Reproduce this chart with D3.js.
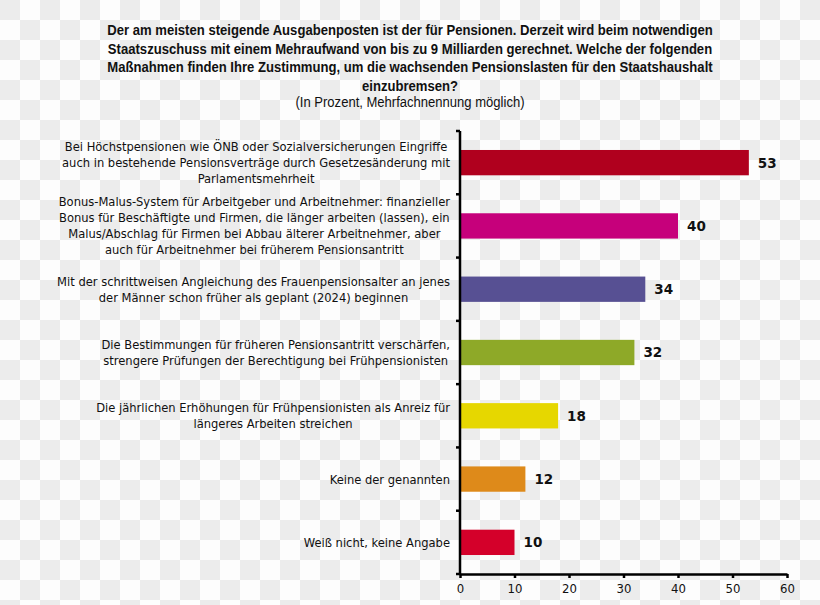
<!DOCTYPE html>
<html><head><meta charset="utf-8">
<script src="https://cdn.jsdelivr.net/npm/d3@7"></script>
<style>html,body{margin:0;padding:0;background:#fff;}</style>
</head><body>
<svg id="chart" width="820" height="605"></svg>
<script>
const titleLines = [
  "Der am meisten steigende Ausgabenposten  ist der für Pensionen. Derzeit wird beim notwendigen",
  "Staatszuschuss  mit einem Mehraufwand  von bis zu 9 Milliarden gerechnet. Welche der folgenden",
  "Maßnahmen finden Ihre Zustimmung, um die wachsenden Pensionslasten für den Staatshaushalt",
  "einzubremsen?"
];
const subtitle = "(In Prozent, Mehrfachnennung möglich)";
const categories = [
  "Bei Höchstpensionen wie ÖNB oder Sozialversicherungen Eingriffe\nauch in bestehende Pensionsverträge durch Gesetzesänderung mit\nParlamentsmehrheit",
  "Bonus-Malus-System für Arbeitgeber und Arbeitnehmer: finanzieller\nBonus für Beschäftigte und Firmen, die länger arbeiten (lassen), ein\nMalus/Abschlag für Firmen bei Abbau älterer Arbeitnehmer, aber\nauch für Arbeitnehmer bei früherem Pensionsantritt",
  "Mit der schrittweisen Angleichung des Frauenpensionsalter an jenes\nder Männer schon früher als geplant (2024) beginnen",
  "Die Bestimmungen für früheren Pensionsantritt verschärfen,\nstrengere Prüfungen der Berechtigung bei Frühpensionisten",
  "Die jährlichen Erhöhungen für Frühpensionisten als Anreiz für\nlängeres Arbeiten streichen",
  "Keine der genannten",
  "Weiß nicht, keine Angabe"
];
const values = [53, 40, 34, 32, 18, 12, 10];
const barColors = ["#b0001e", "#c6007b", "#575093", "#8ea928", "#e6d700", "#de8a1a", "#d4002a"];
const xTicks = [0, 10, 20, 30, 40, 50, 60];

const svg = d3.select("#chart");
const W = 820, H = 605;

// checkerboard background
const cell = 20;
const bg = svg.append("g");
for (let j = 0; j * cell < H; j++) {
  for (let i = 0; i * cell < W; i++) {
    bg.append("rect").attr("x", i * cell).attr("y", j * cell)
      .attr("width", cell).attr("height", cell)
      .attr("fill", (i + j) % 2 === 0 ? "#ececec" : "#fdfdfd");
  }
}

const x = d3.scaleLinear().domain([0, 60]).range([460, 787]);
const y = d3.scaleBand().domain(categories).range([131, 574]).paddingInner(0.6).paddingOuter(0.3);

// title (narrowed to mimic a condensed face)
const tf = "'Liberation Sans', Arial, sans-serif";
const tg = svg.append("g").attr("transform", "translate(410,0) scale(0.885,1)");
const title = tg.append("text").attr("text-anchor", "middle")
  .attr("font-family", tf).attr("font-weight", "bold").attr("font-size", 14.8).attr("fill", "#111");
titleLines.forEach((l, i) => {
  title.append("tspan").attr("x", 0).attr("y", 35 + i * 18.7).text(l);
});
const sg = svg.append("g").attr("transform", "translate(410,0) scale(0.9,1)");
sg.append("text").attr("x", 0).attr("y", 107).attr("text-anchor", "middle")
  .attr("font-family", tf).attr("font-size", 14.5).attr("fill", "#111").text(subtitle);

// bars
const lf = "'DejaVu Sans Condensed', 'DejaVu Sans', sans-serif";
svg.append("g").selectAll("rect").data(values).join("rect")
  .attr("x", x(0)).attr("y", (d, i) => y(categories[i]))
  .attr("width", d => x(d) - x(0)).attr("height", y.bandwidth())
  .attr("fill", (d, i) => barColors[i]);

// value labels
svg.append("g").selectAll("text").data(values).join("text")
  .attr("x", d => x(d) + 9).attr("y", (d, i) => y(categories[i]) + y.bandwidth() / 2)
  .attr("dy", "0.36em").attr("font-family", "'DejaVu Sans', sans-serif").attr("font-weight", "bold")
  .attr("font-size", 13.5).attr("fill", "#111").text(d => d);

// category labels
const lineH = 16;
categories.forEach(c => {
  const lines = c.split("\n");
  const cy = y(c) + y.bandwidth() / 2;
  const t = svg.append("text").attr("text-anchor", "middle")
    .attr("font-family", lf).attr("font-size", 12.8).attr("fill", "#111");
  const spans = lines.map((l, i) => t.append("tspan")
    .attr("y", cy + (i - (lines.length - 1) / 2) * lineH).attr("dy", "0.35em").text(l));
  const maxW = d3.max(spans, s => s.node().getComputedTextLength());
  spans.forEach(s => s.attr("x", 450 - maxW / 2));
});

// y axis
const yTickPos = d3.range(categories.length + 1).map(i => 131 + i * y.step());
const yAxis = svg.append("g");
yAxis.append("line").attr("x1", 460).attr("x2", 460).attr("y1", 131).attr("y2", 574)
  .attr("stroke", "#000").attr("stroke-width", 2.5);
yAxis.selectAll("line.t").data(yTickPos).join("line").attr("class", "t")
  .attr("x1", 456).attr("x2", 460).attr("y1", d => d).attr("y2", d => d)
  .attr("stroke", "#000").attr("stroke-width", 2.5);

// x axis
const xAxis = svg.append("g").attr("transform", "translate(0,574)")
  .call(d3.axisBottom(x).tickValues(xTicks).tickSize(4).tickPadding(6).tickSizeOuter(0));
xAxis.select(".domain").attr("stroke", "#000").attr("stroke-width", 2.5);
xAxis.selectAll(".tick line").attr("stroke", "#000").attr("stroke-width", 2.5);
xAxis.selectAll(".tick text").attr("font-family", lf).attr("font-size", 13).attr("fill", "#111");
</script>
</body></html>
